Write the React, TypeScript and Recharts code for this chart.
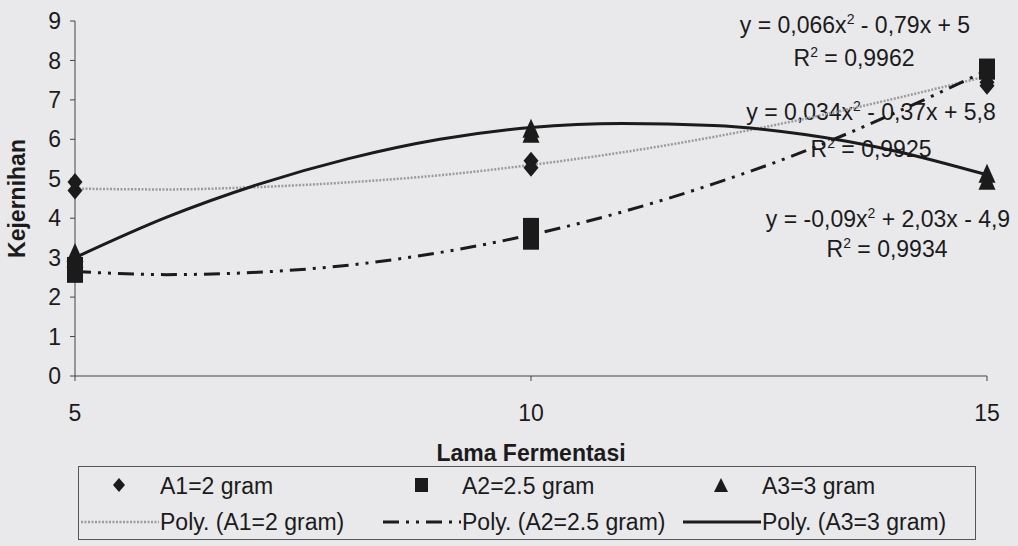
import React from 'react';
import {
    ComposedChart,
    Line,
    Scatter,
    XAxis,
    YAxis,
    Legend,
    Customized
} from 'recharts';

// lama fermentasi (hari)
const xValues = [5, 10, 15];

// dua ulangan per perlakuan
const a1Rep1 = [4.92, 5.46, 7.45];
const a1Rep2 = [4.7, 5.28, 7.36];
const a2Rep1 = [2.79, 3.78, 7.82];
const a2Rep2 = [2.59, 3.43, 7.74];
const a3Rep1 = [3.12, 6.27, 5.13];
const a3Rep2 = [2.98, 6.14, 4.95];

// garis trend polinomial, dibaca dari kurva
const trendX = [5, 6, 7, 8, 9, 10, 11, 12, 13, 14, 15];
const trendA1 = [4.75, 4.73, 4.79, 4.91, 5.09, 5.35, 5.67, 6.06, 6.52, 7.04, 7.6];
const trendA2 = [2.65, 2.57, 2.63, 2.81, 3.13, 3.58, 4.16, 4.87, 5.7, 6.68, 7.75];
const trendA3 = [3.0, 4.02, 4.85, 5.51, 6.0, 6.3, 6.4, 6.35, 6.12, 5.7, 5.1];

const yTicks = [0, 1, 2, 3, 4, 5, 6, 7, 8, 9];
const xTicks = [5, 10, 15];

const seriesNames = ['A1=2 gram', 'A2=2.5 gram', 'A3=3 gram'];
const trendNames = ['Poly. (A1=2 gram)', 'Poly. (A2=2.5 gram)', 'Poly. (A3=3 gram)'];
const equations = ['y = 0,066x² - 0,79x + 5', 'y = 0,034x² - 0,37x + 5,8', 'y = -0,09x² + 2,03x - 4,9'];
const rSquared = ['R² = 0,9962', 'R² = 0,9925', 'R² = 0,9934'];

const FONT = '"Liberation Sans", Arial, sans-serif';
const INK = '#1b1b1b';
const FS = 23;

const trendRows = trendX.map((x, i) => ({ x, t1: trendA1[i], t2: trendA2[i], t3: trendA3[i] }));
const toPoints = (r1: number[], r2: number[]) =>
    xValues.flatMap((x, i) => [{ x, y: r1[i] }, { x, y: r2[i] }]);

const pointsA1 = toPoints(a1Rep1, a1Rep2);
const pointsA2 = toPoints(a2Rep1, a2Rep2);
const pointsA3 = toPoints(a3Rep1, a3Rep2);

const Diamond = ({ cx, cy }: any) => (
    <path d={`M${cx},${cy - 9} L${cx + 7.5},${cy} L${cx},${cy + 9} L${cx - 7.5},${cy} Z`} fill={INK} />
);
const Square = ({ cx, cy }: any) => <rect x={cx - 8} y={cy - 9} width={16} height={18} fill={INK} />;
const Triangle = ({ cx, cy }: any) => (
    <path d={`M${cx},${cy - 10} L${cx + 8.5},${cy + 9} L${cx - 8.5},${cy + 9} Z`} fill={INK} />
);

const trendStyles = [
    { stroke: '#9c9c9c', strokeWidth: 2.5, dash: '2 1.5' },
    { stroke: INK, strokeWidth: 3, dash: '16 7 3 7 3 7' },
    { stroke: INK, strokeWidth: 3, dash: undefined }
];

// teks dengan pangkat 2
const Sup = ({ text, x, y }: { text: string; x: number; y: number }) => {
    const [before, after] = text.split('²');
    return (
        <text x={x} y={y} textAnchor="middle" fontFamily={FONT} fontSize={FS} fill={INK}>
            {before}
            <tspan dy={-9} fontSize={14}>2</tspan>
            <tspan dy={9}>{after}</tspan>
        </text>
    );
};

const eqPos = [
    { x: 855, y: 33, rx: 854, ry: 66 },
    { x: 871, y: 120, rx: 871, ry: 157 },
    { x: 888, y: 227, rx: 887, ry: 257 }
];

const Annotations = () => (
    <g>
        {equations.map((eq, i) => (
            <g key={i}>
                <Sup text={eq} x={eqPos[i].x} y={eqPos[i].y} />
                <Sup text={rSquared[i]} x={eqPos[i].rx} y={eqPos[i].ry} />
            </g>
        ))}
    </g>
);

const colLeft = [0, 302, 602];
const markerIcons = [
    <path d="M7,0 L13,7 L7,14 L1,7 Z" fill={INK} />,
    <rect x={1} y={0} width={13} height={14} fill={INK} />,
    <path d="M7,0 L14,14 L0,14 Z" fill={INK} />
];

const renderLegend = () => (
    <div
        style={{
            position: 'relative',
            width: 898,
            height: 74,
            border: '1px solid #555',
            boxSizing: 'border-box',
            fontFamily: FONT,
            fontSize: FS,
            color: INK
        }}
    >
        {seriesNames.map((name, i) => (
            <React.Fragment key={name}>
                <svg width={15} height={15} style={{ position: 'absolute', left: colLeft[i] + 33, top: 11 }}>
                    {markerIcons[i]}
                </svg>
                <span style={{ position: 'absolute', left: colLeft[i] + 81, top: 1, lineHeight: '36px', whiteSpace: 'nowrap' }}>
                    {name}
                </span>
            </React.Fragment>
        ))}
        {trendNames.map((name, i) => (
            <React.Fragment key={name}>
                <svg width={78} height={8} style={{ position: 'absolute', left: colLeft[i] + 2, top: 51 }}>
                    <line
                        x1={0}
                        y1={4}
                        x2={78}
                        y2={4}
                        stroke={trendStyles[i].stroke}
                        strokeWidth={trendStyles[i].strokeWidth}
                        strokeDasharray={trendStyles[i].dash}
                    />
                </svg>
                <span style={{ position: 'absolute', left: colLeft[i] + 81, top: 37, lineHeight: '36px', whiteSpace: 'nowrap' }}>
                    {name}
                </span>
            </React.Fragment>
        ))}
    </div>
);

const tickStyle = { fill: INK, fontSize: FS, fontFamily: FONT };

export default function App() {
    return (
        <div style={{ position: 'absolute', left: 0, top: 0, width: 1018, height: 546, background: '#e9e9eb' }}>
            <ComposedChart
                width={1018}
                height={546}
                data={trendRows}
                margin={{ top: 21, right: 31, bottom: 6, left: 0 }}
            >
                <XAxis
                    dataKey="x"
                    type="number"
                    domain={[5, 15]}
                    ticks={xTicks}
                    height={90}
                    stroke="#444"
                    tick={tickStyle}
                    tickSize={5}
                    tickMargin={24}
                    label={{
                        value: 'Lama Fermentasi',
                        position: 'insideBottom',
                        offset: 5,
                        style: { fontFamily: FONT, fontSize: FS, fontWeight: 'bold', fill: INK }
                    }}
                />
                <YAxis
                    type="number"
                    domain={[0, 9]}
                    ticks={yTicks}
                    width={75}
                    stroke="#444"
                    tick={tickStyle}
                    tickSize={5}
                    tickMargin={9}
                    label={{
                        value: 'Kejernihan',
                        angle: -90,
                        position: 'insideLeft',
                        offset: 17,
                        style: { fontFamily: FONT, fontSize: FS, fontWeight: 'bold', fill: INK, textAnchor: 'middle' }
                    }}
                />
                <Legend
                    verticalAlign="bottom"
                    content={renderLegend}
                    wrapperStyle={{ left: 78, bottom: 6, width: 898, height: 74 }}
                />
                {(['t1', 't2', 't3'] as const).map((key, i) => (
                    <Line
                        key={key}
                        dataKey={key}
                        name={trendNames[i]}
                        type="monotone"
                        stroke={trendStyles[i].stroke}
                        strokeWidth={trendStyles[i].strokeWidth}
                        strokeDasharray={trendStyles[i].dash}
                        dot={false}
                        activeDot={false}
                        isAnimationActive={false}
                    />
                ))}
                <Scatter name={seriesNames[0]} data={pointsA1} dataKey="y" shape={Diamond} isAnimationActive={false} />
                <Scatter name={seriesNames[1]} data={pointsA2} dataKey="y" shape={Square} isAnimationActive={false} />
                <Scatter name={seriesNames[2]} data={pointsA3} dataKey="y" shape={Triangle} isAnimationActive={false} />
                <Customized component={Annotations} />
            </ComposedChart>
        </div>
    );
}
